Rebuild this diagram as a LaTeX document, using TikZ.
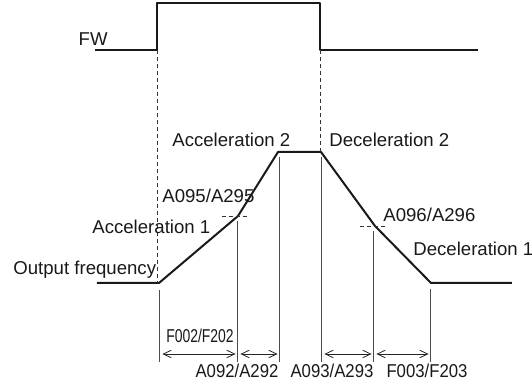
\documentclass[tikz,border=0pt]{standalone}
\usepackage{fontspec}
\setmainfont{Liberation Sans}
\usetikzlibrary{arrows.meta,calc}
\newcommand{\narrowtxt}[2]{\scalebox{#1}[1]{#2}}

\begin{document}
\begin{tikzpicture}[x=0.5pt, y=-0.5pt,
  sig/.style={black!90, line width=1pt, line join=round},
  guide/.style={black!80, line width=0.45pt, dash pattern=on 2pt off 1.5pt},
  tick/.style={black!70, line width=0.5pt},
  span/.style={black!85, line width=0.4pt, {Straight Barb[length=4pt,width=3.8pt]}-{Straight Barb[length=4pt,width=3.8pt]}, shorten <=1.2pt, shorten >=1.2pt},
  lbl/.style={inner sep=0pt, font=\fontsize{9.3}{11}\selectfont, text=black!90}]
\useasboundingbox (0,0) rectangle (532,383);
% FW command signal
\draw[sig] (95,50) coordinate (fwl) -- (157,50) coordinate (on) -- (157,3) -- (320,3)
  -- (320,50) coordinate (off) -- (478,50) coordinate (fwr);
\node[lbl, anchor=base east] (fw) at (108,46) {FW};
% output frequency profile
\coordinate (p0) at (159,283); \coordinate (p1) at (238,216);
\coordinate (p2) at (278,152); \coordinate (p3) at (321,152);
\coordinate (p4) at (375,226); \coordinate (p5) at (431,283);
\draw[sig] (97,283) -- (p0) -- (p1) -- (p2) -- (p3) -- (p4) -- (p5) -- (512,283);
% dashed guides
\draw[guide] (on) -- (on |- p0);
\draw[guide] (off) -- (off |- p3);
\draw[guide] ($(p1)+(-16,0)$) -- ($(p1)+(12,0)$);
\draw[guide] ($(p4)+(-15,0)$) -- ($(p4)+(13,0)$);
% time markers
\coordinate (t0) at (160,362); \coordinate (t1) at (238,362);
\coordinate (t2) at (280,362); \coordinate (t3) at (322,362);
\coordinate (t4) at (374,362); \coordinate (t5) at (431,362);
\draw[tick] (t0) -- (160,290);
\draw[tick] (t1) -- (238,221);
\draw[tick] (t2) -- (280,157);
\draw[tick] (t3) -- (322,157);
\draw[tick] (t4) -- (374,231);
\draw[tick] (t5) -- (431,289);
\foreach \a/\b in {t0/t1,t1/t2,t3/t4,t4/t5}
  \draw[span] ($(\a)+(0,-8)$) -- ($(\b)+(0,-8)$);
% labels
\node[lbl, anchor=base west] (acc2) at (172,147) {Acceleration 2};
\node[lbl, anchor=base west] (dec2) at (329,147) {Deceleration 2};
\node[lbl, anchor=base west] (a095) at (162,203) {A095/A295};
\node[lbl, anchor=base west] (acc1) at (92,234) {Acceleration 1};
\node[lbl, anchor=base west] (fout) at (13,275) {Output frequency};
\node[lbl, anchor=base west] (a096) at (383,222) {A096/A296};
\node[lbl, anchor=base west] (dec1) at (413,256) {Deceleration 1};
\node[lbl, anchor=base] (f002) at (200,343) {\narrowtxt{0.75}{F002/F202}};
\node[lbl, anchor=base] (a092) at (237,378) {\narrowtxt{0.9}{A092/A292}};
\node[lbl, anchor=base] (a093) at (332,378) {\narrowtxt{0.9}{A093/A293}};
\node[lbl, anchor=base] (f003) at (427,378) {\narrowtxt{0.9}{F003/F203}};
\end{tikzpicture}
\end{document}
